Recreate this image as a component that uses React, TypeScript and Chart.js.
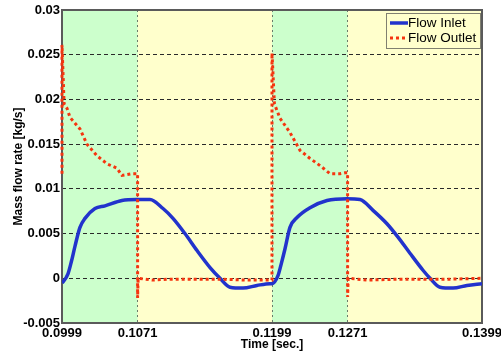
import React, { useEffect, useRef } from "react";
import { Chart, registerables } from "chart.js";
Chart.register(...registerables);

const inletTime = [0.0999, 0.1, 0.10047, 0.1008, 0.10114, 0.10161, 0.10209, 0.10304, 0.104, 0.10561, 0.10704, 0.10828, 0.10952, 0.11047, 0.11161, 0.11276, 0.114, 0.11495, 0.1159, 0.11714, 0.11847, 0.11971,
  0.1199, 0.12047, 0.1208, 0.12114, 0.12161, 0.12228, 0.12352, 0.12514, 0.12704, 0.12828, 0.12952, 0.13085, 0.1319, 0.13304, 0.13428, 0.13495, 0.1359, 0.13714, 0.13847, 0.1399];
const inletFlow = [-0.0005, -0.0004, 0.0005, 0.0019, 0.0036, 0.0057, 0.0067, 0.0078, 0.0081, 0.0087, 0.0088, 0.0088, 0.0078, 0.0067, 0.005, 0.0031, 0.0012, 0.0, -0.001, -0.0011, -0.0008, -0.0006,
  -0.0006, 0.0003, 0.0017, 0.0033, 0.0057, 0.0068, 0.0079, 0.0087, 0.0089, 0.0088, 0.0076, 0.0061, 0.0046, 0.0028, 0.0009, 0.0, -0.001, -0.0011, -0.0008, -0.0006];

const outletTime = [0.0999, 0.0999, 0.1001, 0.10038, 0.10066, 0.10161, 0.10228, 0.10323, 0.10419, 0.10514, 0.10561, 0.10657, 0.1071, 0.1071, 0.10715, 0.1085, 0.11, 0.1125, 0.115, 0.1175, 0.1199,
  0.1199, 0.12013, 0.12066, 0.12161, 0.12257, 0.12352, 0.12447, 0.12542, 0.12638, 0.12685, 0.1271, 0.1271, 0.12715, 0.129, 0.132, 0.1345, 0.137, 0.1399];
const outletFlow = [0.0117, 0.0261, 0.0195, 0.019, 0.018, 0.0167, 0.015, 0.0137, 0.0128, 0.0123, 0.0115, 0.0117, 0.0117, -0.0022, 0.0, -0.0002, -0.0001, -0.0001, -0.0001, -0.0002, -0.0002,
  0.0252, 0.0195, 0.0179, 0.0163, 0.0143, 0.0134, 0.0126, 0.0117, 0.0117, 0.0118, 0.0118, -0.0021, 0.0, -0.0002, -0.0001, -0.0001, -0.0001, 0.0];

const xTicks = [0.0999, 0.1071, 0.1199, 0.1271, 0.1399];
const yTicks = [-0.005, 0, 0.005, 0.01, 0.015, 0.02, 0.025, 0.03];
const greenBands = [[0.0999, 0.1071], [0.1199, 0.1271]];
const seriesNames = ["Flow Inlet", "Flow Outlet"];

const FONT = "'Liberation Sans', Arial, sans-serif";
const BLUE = "#2233cc";
const RED = "#f5350f";

const bgPlugin = {
  id: "bgBands",
  beforeDraw(chart: any) {
    const { ctx, chartArea } = chart;
    const { left, right, top, bottom } = chartArea;
    const x = chart.scales.x;
    ctx.save();
    ctx.fillStyle = "#ffffcc";
    ctx.fillRect(left, top, right - left, bottom - top);
    ctx.fillStyle = "#ccffcc";
    for (const [a, b] of greenBands) {
      const x1 = x.getPixelForValue(a);
      const x2 = x.getPixelForValue(b);
      ctx.fillRect(x1, top, x2 - x1, bottom - top);
    }
    ctx.restore();
  },
  beforeDatasetsDraw(chart: any) {
    const { ctx, chartArea } = chart;
    const { left, right, top, bottom } = chartArea;
    ctx.save();
    ctx.strokeStyle = "#5a5a5a";
    ctx.lineWidth = 2;
    ctx.strokeRect(left, top, right - left, bottom - top);
    ctx.restore();
  },
  afterDraw(chart: any) {
    const { ctx } = chart;
    const bx = 386, by = 13, bw = 94, bh = 35;
    ctx.save();
    ctx.fillStyle = "#ffffcc";
    ctx.fillRect(bx, by, bw, bh);
    ctx.strokeStyle = "#808070";
    ctx.lineWidth = 1;
    ctx.strokeRect(bx + 0.5, by + 0.5, bw, bh);
    const rows = [
      { y: 23, color: BLUE, dash: [] as number[], w: 3.5 },
      { y: 38, color: RED, dash: [3, 3], w: 3 },
    ];
    rows.forEach((r, i) => {
      ctx.beginPath();
      ctx.setLineDash(r.dash);
      ctx.strokeStyle = r.color;
      ctx.lineWidth = r.w;
      ctx.moveTo(390, r.y);
      ctx.lineTo(408, r.y);
      ctx.stroke();
      ctx.setLineDash([]);
      ctx.fillStyle = "#000";
      ctx.font = `13.5px ${FONT}`;
      ctx.textBaseline = "middle";
      ctx.textAlign = "left";
      ctx.fillText(seriesNames[i], 408, r.y + 0.5);
    });
    ctx.restore();
  },
};

export default function App() {
  const ref = useRef<HTMLCanvasElement | null>(null);
  useEffect(() => {
    if (!ref.current) return;
    const hideEnds = (n: number) => (c: any) =>
      c.index === 0 || c.index === n - 1 ? "rgba(0,0,0,0)" : undefined;
    const chart = new Chart(ref.current, {
      type: "line",
      data: {
        datasets: [
          {
            label: seriesNames[0],
            data: inletTime.map((t, i) => ({ x: t, y: inletFlow[i] })),
            borderColor: BLUE,
            backgroundColor: BLUE,
            borderWidth: 3.5,
            pointRadius: 0,
            cubicInterpolationMode: "monotone",
            order: 1,
          },
          {
            label: seriesNames[1],
            data: outletTime.map((t, i) => ({ x: t, y: outletFlow[i] })),
            borderColor: RED,
            backgroundColor: RED,
            borderWidth: 3,
            borderDash: [3, 3],
            borderCapStyle: "butt",
            pointRadius: 0,
            tension: 0,
            clip: 8,
            order: 0,
          },
        ],
      },
      options: {
        animation: false,
        responsive: false,
        devicePixelRatio: 1,
        layout: { padding: { top: 10, right: 19, bottom: 0, left: 0 } },
        plugins: { legend: { display: false }, tooltip: { enabled: false }, title: { display: false } },
        scales: {
          x: {
            type: "linear",
            min: 0.0999,
            max: 0.1399,
            afterBuildTicks: (s: any) => {
              s.ticks = xTicks.map((v) => ({ value: v }));
            },
            afterFit: (s: any) => {
              s.height = 36;
              s.paddingLeft = 0;
              s.paddingRight = 0;
            },
            ticks: {
              autoSkip: false,
              maxRotation: 0,
              padding: 3,
              color: "#000",
              font: { family: FONT, size: 13, weight: "bold" },
              callback: (v: any) => Number(v).toFixed(4),
            },
            grid: {
              drawTicks: false,
              lineWidth: 1,
              color: (c: any) => hideEnds(xTicks.length)(c) ?? "#6a7a6a",
            },
            border: { display: false, dash: [2, 3] },
            title: {
              display: true,
              text: "Time [sec.]",
              color: "#000",
              font: { family: FONT, size: 12, weight: "bold" },
              padding: { top: 0, bottom: 7 },
            },
          },
          y: {
            type: "linear",
            min: -0.005,
            max: 0.03,
            afterBuildTicks: (s: any) => {
              s.ticks = yTicks.map((v) => ({ value: v }));
            },
            afterFit: (s: any) => {
              s.width = 62;
              s.paddingTop = 0;
              s.paddingBottom = 0;
            },
            ticks: {
              autoSkip: false,
              padding: 2,
              color: "#000",
              font: { family: FONT, size: 13, weight: "bold" },
              callback: (v: any) => String(parseFloat(Number(v).toFixed(4))),
            },
            grid: {
              drawTicks: false,
              lineWidth: 1,
              color: (c: any) => hideEnds(yTicks.length)(c) ?? "#2a2a2a",
            },
            border: { display: false, dash: [4, 3] },
            title: {
              display: true,
              text: "Mass flow rate [kg/s]",
              color: "#000",
              font: { family: FONT, size: 12, weight: "bold" },
              padding: { top: 11, bottom: 0 },
            },
          },
        },
      } as any,
      plugins: [bgPlugin],
    });
    return () => chart.destroy();
  }, []);
  return (
    <div style={{ position: "fixed", left: 0, top: 0, width: 501, height: 359, background: "#fff" }}>
      <canvas ref={ref} width={501} height={359} style={{ display: "block" }} />
    </div>
  );
}
